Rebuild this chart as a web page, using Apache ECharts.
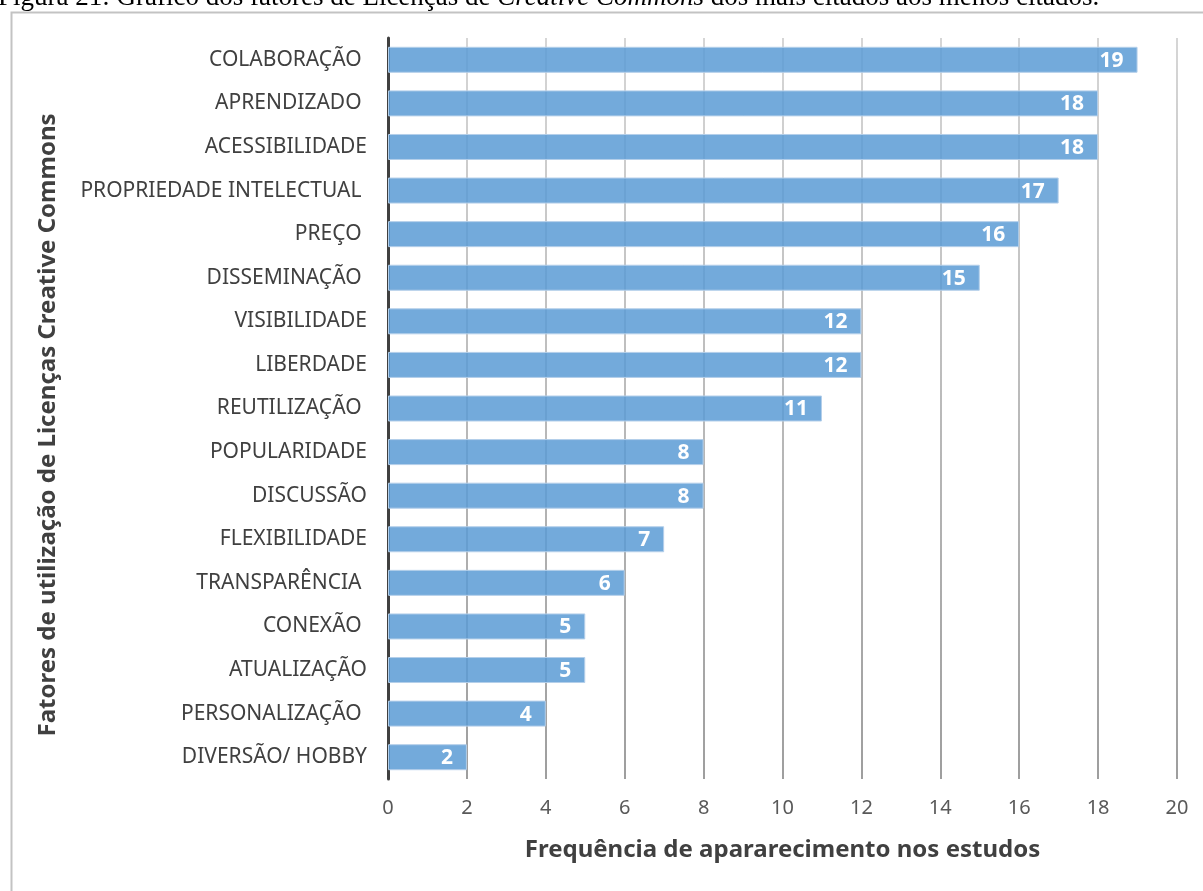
<!DOCTYPE html>
<html><head><meta charset="utf-8">
<script src="https://cdn.jsdelivr.net/npm/echarts@6/dist/echarts.min.js"></script>
<style>html,body{margin:0;padding:0;background:#fff}#c{width:1203px;height:891px}</style>
</head><body><div id="c"></div>
<script>
const categories = ["COLABORAÇÃO ", "APRENDIZADO ", "ACESSIBILIDADE", "PROPRIEDADE INTELECTUAL ", "PREÇO ", "DISSEMINAÇÃO ", "VISIBILIDADE", "LIBERDADE", "REUTILIZAÇÃO ", "POPULARIDADE", "DISCUSSÃO", "FLEXIBILIDADE", "TRANSPARÊNCIA ", "CONEXÃO ", "ATUALIZAÇÃO", "PERSONALIZAÇÃO ", "DIVERSÃO/ HOBBY"];
const values = [19, 18, 18, 17, 16, 15, 12, 12, 11, 8, 8, 7, 6, 5, 5, 4, 2];
const xTicks = [0, 2, 4, 6, 8, 10, 12, 14, 16, 18, 20];
const xTitle = "Frequência de apararecimento nos estudos";
const yTitle = "Fatores de utilização de Licenças Creative Commons";
const caption = "Figura 21: Gráfico dos fatores de Licenças de ";
const captionItalic = "Creative Commons";
const captionEnd = " dos mais citados aos menos citados.";

const chart = echarts.init(document.getElementById('c'), null, {renderer: 'canvas'});
const font = "'Noto Sans', sans-serif";
chart.setOption({
  animation: false,
  backgroundColor: '#fff',
  graphic: [
    {type: 'rect', left: 9, top: 10, shape: {x: 0, y: 0, width: 1200, height: 900}, style: {fill: 'none', stroke: '#c3c3c3', lineWidth: 2}, z: -1},
    {type: 'text', left: -2, top: -16, style: {
      text: '{a|' + caption + '}{b|' + captionItalic + '}{a|' + captionEnd + '}',
      rich: {
        a: {fontFamily: "'Liberation Serif', serif", fontSize: 27, fill: '#000'},
        b: {fontFamily: "'Liberation Serif', serif", fontSize: 27, fontStyle: 'italic', fill: '#000'}
      }
    }},
    {type: 'text', x: 48, y: 425, rotation: Math.PI / 2, style: {
      text: yTitle, align: 'center', verticalAlign: 'middle',
      fontFamily: font, fontSize: 24, fontWeight: 'bold', fill: '#404040'
    }}
  ],
  grid: {left: 388, right: 26, top: 38, bottom: 112, containLabel: false},
  xAxis: {
    type: 'value', min: xTicks[0], max: xTicks[xTicks.length - 1], interval: 2,
    name: xTitle, nameLocation: 'middle', nameGap: 59,
    nameTextStyle: {fontFamily: font, fontSize: 24, fontWeight: 'bold', color: '#404040'},
    axisLine: {show: false}, axisTick: {show: false},
    axisLabel: {fontFamily: font, fontSize: 20, color: '#595959', margin: 19},
    splitLine: {show: true, lineStyle: {width: 2, color: {
      type: 'linear', x: 0, y: 38, x2: 0, y2: 779, global: true,
      colorStops: [{offset: 0, color: '#d6d6d6'}, {offset: 1, color: '#9e9e9e'}]
    }}}
  },
  yAxis: {
    type: 'category', data: categories, inverse: true,
    axisLine: {show: true, lineStyle: {color: '#404040', width: 3}},
    axisTick: {show: false},
    axisLabel: {fontFamily: font, fontSize: 21, color: '#404040', margin: 21},
    splitLine: {show: false}
  },
  series: [{
    type: 'bar', data: values, barWidth: 26,
    itemStyle: {color: 'rgba(91,155,213,0.85)', borderColor: '#b4cfea', borderWidth: 1},
    label: {show: true, position: 'insideRight', distance: 14, offset: [0, 1], color: '#fff', fontFamily: font, fontSize: 21, fontWeight: 'bold'}
  }]
});
</script></body></html>
